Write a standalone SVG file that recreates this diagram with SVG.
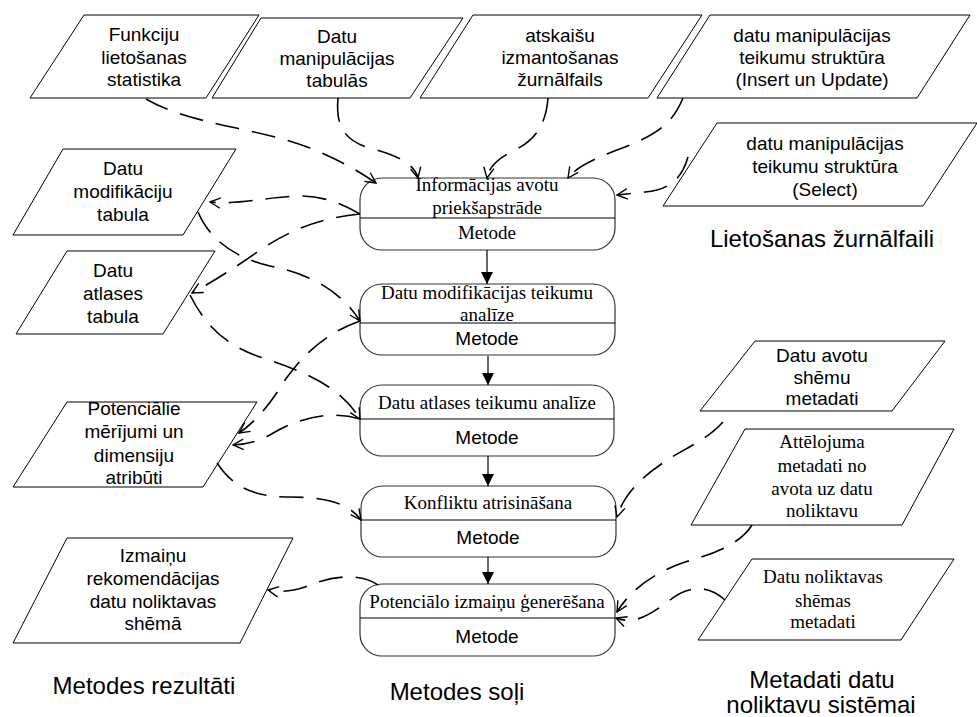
<svg xmlns="http://www.w3.org/2000/svg" width="977" height="717" viewBox="0 0 977 717">
  <style>
    .para { fill: #fff; stroke: #000; stroke-width: 1; }
    .step { fill: #fff; stroke: #333; stroke-width: 1.2; }
    .div { stroke: #000; stroke-width: 1.2; }
    .sans { font-family: "Liberation Sans", Arial, sans-serif; font-size: 19px; fill: #000; text-anchor: middle; }
    .serif { font-family: "Liberation Serif", "Times New Roman", serif; font-size: 19px; fill: #000; text-anchor: middle; }
    .big { font-family: "Liberation Sans", Arial, sans-serif; font-size: 24px; fill: #000; text-anchor: middle; }
    .flow { fill: none; stroke: #000; stroke-width: 1.6; stroke-dasharray: 24 13; marker-end: url(#open); }
    .seq { fill: none; stroke: #000; stroke-width: 1.2; marker-end: url(#solid); }
  </style>
  <defs>
    <marker id="open" viewBox="0 0 12 12" refX="11" refY="6" markerWidth="12" markerHeight="12" markerUnits="userSpaceOnUse" orient="auto">
      <path d="M0.5,0.8 L11,6 L0.5,11.2" fill="none" stroke="#000" stroke-width="1.4"/>
    </marker>
    <marker id="solid" viewBox="0 0 12 12" refX="12" refY="6" markerWidth="12" markerHeight="12" markerUnits="userSpaceOnUse" orient="auto">
      <path d="M0,0 L12,6 L0,12 Z" fill="#000"/>
    </marker>
  </defs>

  <!-- input sources: usage logs -->
  <g id="funkciju-statistika">
    <polygon class="para" points="84,15 259,15 206,98 30,98"/>
    <text class="sans" x="144" y="41">Funkciju</text>
    <text class="sans" x="144" y="64">lietošanas</text>
    <text class="sans" x="144" y="86">statistika</text>
  </g>
  <g id="datu-manipulacijas-tabulas">
    <polygon class="para" points="261,18 463,18 410,98 212,98"/>
    <text class="sans" x="337" y="43">Datu</text>
    <text class="sans" x="337" y="65">manipulācijas</text>
    <text class="sans" x="337" y="87">tabulās</text>
  </g>
  <g id="atskaisu-zurnalfails">
    <polygon class="para" points="473,15 702,15 648,98 420,98"/>
    <text class="sans" x="560" y="42">atskaišu</text>
    <text class="sans" x="560" y="64">izmantošanas</text>
    <text class="sans" x="560" y="86">žurnālfails</text>
  </g>
  <g id="teikumu-struktura-insert">
    <polygon class="para" points="710,15 970,15 917,98 657,98"/>
    <text class="sans" x="812" y="42">datu manipulācijas</text>
    <text class="sans" x="812" y="64">teikumu struktūra</text>
    <text class="sans" x="812" y="86">(Insert un Update)</text>
  </g>
  <g id="teikumu-struktura-select">
    <polygon class="para" points="717,123 977,123 923,206 663,206"/>
    <text class="sans" x="825" y="150">datu manipulācijas</text>
    <text class="sans" x="825" y="173">teikumu struktūra</text>
    <text class="sans" x="825" y="196">(Select)</text>
  </g>
  <text class="big" x="822" y="247">Lietošanas žurnālfaili</text>

  <!-- method results -->
  <g id="datu-modifikaciju-tabula">
    <polygon class="para" points="63,149 236,149 183,235 13,235"/>
    <text class="sans" x="123" y="175">Datu</text>
    <text class="sans" x="123" y="198">modifikāciju</text>
    <text class="sans" x="123" y="221">tabula</text>
  </g>
  <g id="datu-atlases-tabula">
    <polygon class="para" points="67,251 215,251 163,334 16,334"/>
    <text class="sans" x="113" y="277">Datu</text>
    <text class="sans" x="113" y="300">atlases</text>
    <text class="sans" x="113" y="323">tabula</text>
  </g>
  <g id="potencialie-merijumi">
    <polygon class="para" points="67,402 257,402 203,487 13,487"/>
    <text class="sans" x="134" y="415">Potenciālie</text>
    <text class="sans" x="134" y="438">mērījumi un</text>
    <text class="sans" x="134" y="462">dimensiju</text>
    <text class="sans" x="134" y="484">atribūti</text>
  </g>
  <g id="izmainu-rekomendacijas">
    <polygon class="para" points="67,538 293,538 240,643 13,643"/>
    <text class="sans" x="153" y="562">Izmaiņu</text>
    <text class="sans" x="153" y="585">rekomendācijas</text>
    <text class="sans" x="153" y="608">datu noliktavas</text>
    <text class="sans" x="153" y="630">shēmā</text>
  </g>
  <text class="big" x="144" y="694">Metodes rezultāti</text>

  <!-- method steps -->
  <g id="step-preprocessing">
    <rect class="step" x="360" y="178" width="255" height="72" rx="22"/>
    <line class="div" x1="360" y1="218" x2="615" y2="218"/>
    <text class="serif" x="487" y="191">Informācijas avotu</text>
    <text class="serif" x="487" y="214">priekšapstrāde</text>
    <text class="serif" x="487" y="239">Metode</text>
  </g>
  <g id="step-modification-analysis">
    <rect class="step" x="360" y="284" width="255" height="71" rx="22"/>
    <line class="div" x1="360" y1="323" x2="615" y2="323"/>
    <text class="serif" x="487" y="299">Datu modifikācijas teikumu</text>
    <text class="serif" x="487" y="321">analīze</text>
    <text class="sans" x="487" y="345">Metode</text>
  </g>
  <g id="step-selection-analysis">
    <rect class="step" x="360" y="385" width="254" height="71" rx="22"/>
    <line class="div" x1="360" y1="419" x2="614" y2="419"/>
    <text class="serif" x="487" y="409">Datu atlases teikumu analīze</text>
    <text class="sans" x="487" y="444">Metode</text>
  </g>
  <g id="step-conflicts">
    <rect class="step" x="361" y="486" width="255" height="71" rx="22"/>
    <line class="div" x1="361" y1="520" x2="616" y2="520"/>
    <text class="serif" x="488" y="509">Konfliktu atrisināšana</text>
    <text class="sans" x="488" y="544">Metode</text>
  </g>
  <g id="step-generation">
    <rect class="step" x="360" y="584" width="255" height="72" rx="22"/>
    <line class="div" x1="360" y1="618" x2="615" y2="618"/>
    <text class="serif" x="487" y="608">Potenciālo izmaiņu ģenerēšana</text>
    <text class="sans" x="487" y="643">Metode</text>
  </g>
  <text class="big" x="457" y="700">Metodes soļi</text>

  <!-- data warehouse metadata -->
  <g id="datu-avotu-metadati">
    <polygon class="para" points="755,341 945,341 892,411 700,411"/>
    <text class="sans" x="822" y="362">Datu avotu</text>
    <text class="sans" x="822" y="384">shēmu</text>
    <text class="sans" x="822" y="405">metadati</text>
  </g>
  <g id="attelojuma-metadati">
    <polygon class="para" points="745,429 954,429 902,525 691,525"/>
    <text class="serif" x="822" y="448">Attēlojuma</text>
    <text class="serif" x="822" y="472">metadati no</text>
    <text class="serif" x="822" y="495">avota uz datu</text>
    <text class="serif" x="822" y="517">noliktavu</text>
  </g>
  <g id="noliktavas-shemas-metadati">
    <polygon class="para" points="752,559 954,559 901,640 698,640"/>
    <text class="serif" x="823" y="583">Datu noliktavas</text>
    <text class="serif" x="823" y="607">shēmas</text>
    <text class="serif" x="823" y="628">metadati</text>
  </g>
  <text class="big" x="822" y="688">Metadati datu</text>
  <text class="big" x="821" y="713">noliktavu sistēmai</text>

  <!-- connectors -->
  <g id="connectors">
    <path class="seq" d="M487,250 L487,284"/>
    <path class="seq" d="M488,356 L488,385"/>
    <path class="seq" d="M488,456 L488,486"/>
    <path class="seq" d="M488,557 L488,584"/>

    <path class="flow" d="M146,99 C 190,125 260,128 310,148 C 340,160 360,172 376,183"/>
    <path class="flow" d="M338,98 C 336,120 340,140 370,148 C 400,156 415,165 418,178"/>
    <path class="flow" d="M548,98 C 546,125 535,140 515,150 C 498,158 489,167 487,178"/>
    <path class="flow" d="M683,98 C 672,125 655,135 625,147 C 595,158 575,168 568,178"/>
    <path class="flow" d="M688,157 C 682,178 670,190 645,192 L 617,195"/>

    <path class="flow" d="M360,214 C 345,205 325,196 300,196 C 265,197 240,205 210,202"/>
    <path class="flow" d="M360,214 C 320,218 290,230 260,250 C 235,268 212,282 192,293"/>
    <path class="flow" d="M198,212 C 210,240 235,258 270,266 C 310,274 340,290 360,321"/>
    <path class="flow" d="M190,295 C 205,325 225,345 260,357 C 300,370 340,385 360,419"/>
    <path class="flow" d="M360,321 C 320,335 300,360 285,380 C 270,405 255,422 239,433"/>
    <path class="flow" d="M360,419 C 330,410 300,418 275,432 C 262,440 250,444 233,445"/>
    <path class="flow" d="M217,463 C 232,485 250,497 290,497 C 330,497 350,505 361,520"/>
    <path class="flow" d="M378,585 C 360,572 330,576 305,587 C 290,592 280,592 268,590"/>

    <path class="flow" d="M723,422 C 705,442 680,450 660,465 C 635,482 622,500 617,517"/>
    <path class="flow" d="M752,525 C 740,545 710,555 685,562 C 655,572 630,590 617,612"/>
    <path class="flow" d="M725,600 C 705,582 685,588 670,600 C 650,615 635,625 616,618"/>
  </g>
</svg>
